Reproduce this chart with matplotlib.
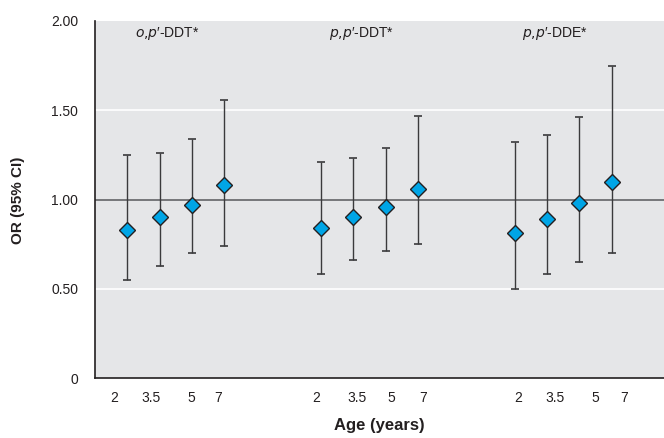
import matplotlib
matplotlib.use("Agg")
import matplotlib.pyplot as plt
from matplotlib import font_manager

# ---- data ----
groups = ["o,p′-DDT*", "p,p′-DDT*", "p,p′-DDE*"]
group_italic = ["o,p", "p,p", "p,p"]
group_rest = ["′-DDT*", "′-DDT*", "′-DDE*"]
ages = ["2", "3.5", "5", "7"]
or_vals = [
    [0.83, 0.90, 0.97, 1.08],
    [0.84, 0.90, 0.96, 1.06],
    [0.81, 0.89, 0.98, 1.10],
]
ci_low = [
    [0.55, 0.63, 0.70, 0.74],
    [0.58, 0.66, 0.71, 0.75],
    [0.50, 0.58, 0.65, 0.70],
]
ci_high = [
    [1.25, 1.26, 1.34, 1.56],
    [1.21, 1.23, 1.29, 1.47],
    [1.32, 1.36, 1.46, 1.75],
]
yticks = [0, 0.5, 1.0, 1.5, 2.0]
ytick_labels = ["0", "0.50", "1.00", "1.50", "2.00"]

# ---- style ----
avail = {f.name for f in font_manager.fontManager.ttflist}
base = "Liberation Sans Narrow" if "Liberation Sans Narrow" in avail else "Liberation Sans"
plt.rcParams["font.family"] = [base, "DejaVu Sans"]

fig = plt.figure(figsize=(6.64, 4.38), dpi=100)
ax = fig.add_axes([95 / 664, 1 - 378 / 438, (664 - 95) / 664, (378 - 21) / 438])
ax.set_facecolor("#e5e6e8")

group_gap = 6.0
# tick label offsets (style: shift of printed labels relative to points)
label_offsets = [
    [-0.40, -0.25, -0.03, -0.20],
    [-0.15, 0.10, 0.18, 0.15],
    [0.10, 0.25, 0.50, 0.38],
]

for sp in ["top", "right"]:
    ax.spines[sp].set_visible(False)
for sp in ["left", "bottom"]:
    ax.spines[sp].set_color("#231f20")
    ax.spines[sp].set_linewidth(1.2)

for yv in [0.5, 1.5]:
    ax.axhline(yv, color="white", lw=1.2, zorder=1)
ax.axhline(1.0, color="#6d6e71", lw=1.3, zorder=1)

tick_pos = []
tick_lab = []
for g in range(len(groups)):
    xs = [g * group_gap + i for i in range(len(ages))]
    ys = or_vals[g]
    lo = [y - l for y, l in zip(ys, ci_low[g])]
    hi = [h - y for y, h in zip(ys, ci_high[g])]
    ax.errorbar(xs, ys, yerr=[lo, hi], fmt="none", ecolor="#3a3a3c",
                elinewidth=1.0, capsize=3, capthick=1.2, zorder=2)
    ax.plot(xs, ys, linestyle="none", marker="D", markersize=8.5,
            markerfacecolor="#00a5e6", markeredgecolor="#231f20",
            markeredgewidth=1.0, zorder=3)
    for i, a in enumerate(ages):
        tick_pos.append(xs[i] + label_offsets[g][i])
        tick_lab.append(a)
    cx = g * group_gap + 1.25
    ax.text(cx, 1.93, r"$\mathit{" + group_italic[g].replace(",", "{,}") + "}$" + group_rest[g],
            ha="center", va="center", fontsize=10, color="#231f20")

ax.set_xticks(tick_pos)
ax.set_xticklabels(tick_lab, fontsize=10, color="#231f20")
ax.set_yticks(yticks)
ax.set_yticklabels(ytick_labels, fontsize=10, color="#231f20")
ax.tick_params(axis="x", length=0, pad=9)
ax.tick_params(axis="y", length=0, pad=12)
ax.set_xlim(-1, (664 - 95) / 32.3 - 1)
ax.set_ylim(0, 2.0)

fig.text(18 / 664, 1 - 200 / 438, "OR (95% CI)", rotation=90, ha="center", va="center",
         fontsize=11, fontweight="bold", color="#231f20")
ax.set_xlabel("Age (years)", fontsize=12, fontweight="bold", color="#231f20", labelpad=10)

fig.savefig("out.png", dpi=100)
